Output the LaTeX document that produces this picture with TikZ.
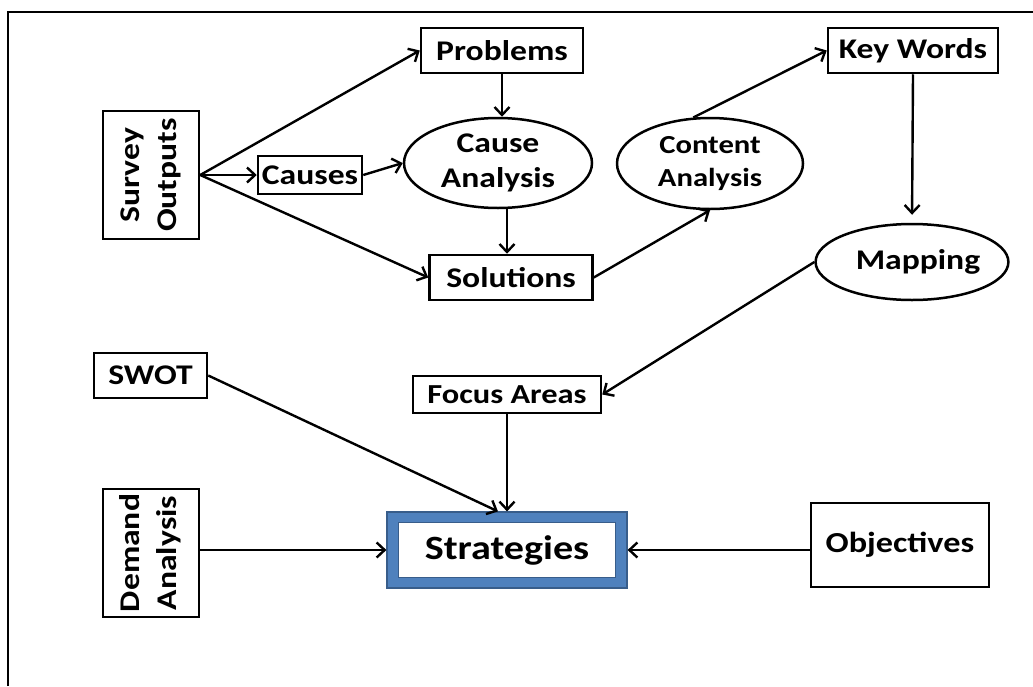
\documentclass[tikz,border=0pt]{standalone}
\usepackage{fontspec}
\setmainfont{Carlito}[FakeStretch=1.18]
\usetikzlibrary{arrows.meta,shapes.geometric}
\definecolor{stratfill}{HTML}{4F81BD}
\definecolor{stratedge}{HTML}{385D8A}
\begin{document}
\begin{tikzpicture}[x=1pt,y=-1pt,
  font=\fontsize{28.5}{35}\selectfont\bfseries,
  box/.style={draw,line width=2.5pt,rectangle,inner sep=2pt,align=center},
  oval/.style={draw,line width=2.5pt,ellipse,inner sep=0pt,align=center},
  arr/.style={line width=2.4pt,-{Straight Barb[length=8pt,width=15pt]}}]
\useasboundingbox (0,0) rectangle (1033,686);
% frame (only top and left edges fall inside the page)
\draw[line width=2.5pt] (8,686) -- (8,12) -- (1033,12);

% upper chain
\node[box,minimum width=96,minimum height=128] (survey) at (151,175)
  {\rotatebox{90}{\begin{tabular}{@{}c@{}}Survey\\[2pt]Outputs\end{tabular}}};
\node[box,minimum width=162,minimum height=45] (problems) at (502,50.5) {Problems};
\node[box,minimum width=104,minimum height=38,inner sep=0pt] (causes) at (310,175) {Causes};
\node[oval,minimum width=188,minimum height=90] (cause) at (498,163) {Cause\\Analysis};
\node[box,minimum width=163,minimum height=45] (solutions) at (511,277.5) {Solutions};
\node[oval,minimum width=186,minimum height=91,font=\fontsize{26}{33}\selectfont\bfseries] (content) at (710,163.5) {Content\\Analysis};
\node[box,minimum width=170,minimum height=45] (keywords) at (913,50.5) {Key Words};
\node[oval,minimum width=187,minimum height=76] (mapping) at (912,262) {\hspace{12pt}Mapping};

% lower part
\node[box,minimum width=113,minimum height=45] (swot) at (150.5,375.5) {SWOT};
\node[box,minimum width=188,minimum height=37,inner sep=0pt,font=\fontsize{27.5}{30}\selectfont\bfseries] (focus) at (507,394.5) {Focus Areas};
\node[box,minimum width=96,minimum height=128] (demand) at (151,553)
  {\rotatebox{90}{\begin{tabular}{@{}c@{}}Demand\\[2pt]Analysis\end{tabular}}};
\node[rectangle,fill=stratfill,draw=stratedge,line width=1.2pt,minimum width=240,minimum height=76] (strat) at (507,550) {};
\node[rectangle,fill=white,draw=stratedge,line width=1.2pt,minimum width=217,minimum height=55,font=\fontsize{34}{38}\selectfont\bfseries] (stratin) at (507,550) {Strategies};
\node[box,minimum width=178,minimum height=84,font=\fontsize{29}{32}\selectfont\bfseries] (obj) at (900,545) {Objectives};

% connectors
\draw[arr] (survey.east) -- (problems.west);
\draw[arr] (survey.east) -- (causes.west);
\draw[arr] (survey.east) -- (solutions.west);
\draw[arr] (causes.east) -- (cause.west);
\draw[arr] (problems.south) -- (problems.south |- cause.north);
\draw[arr] ([xshift=9pt]cause.south) -- ([xshift=-4pt]solutions.north);
\draw[arr] (solutions.east) -- (content.south);
\draw[arr] (content.110) -- (keywords.west);
\draw[arr,shorten >=8pt] (keywords.south) -- (mapping.north);
\draw[arr] (mapping.west) -- (focus.east);
\draw[arr] (swot.east) -- ([xshift=-9pt]strat.north);
\draw[arr] (focus.south) -- (strat.north);
\draw[arr] (demand.east |- strat.west) -- (strat.west);
\draw[arr] (obj.west |- strat.east) -- (strat.east);
\end{tikzpicture}
\end{document}
